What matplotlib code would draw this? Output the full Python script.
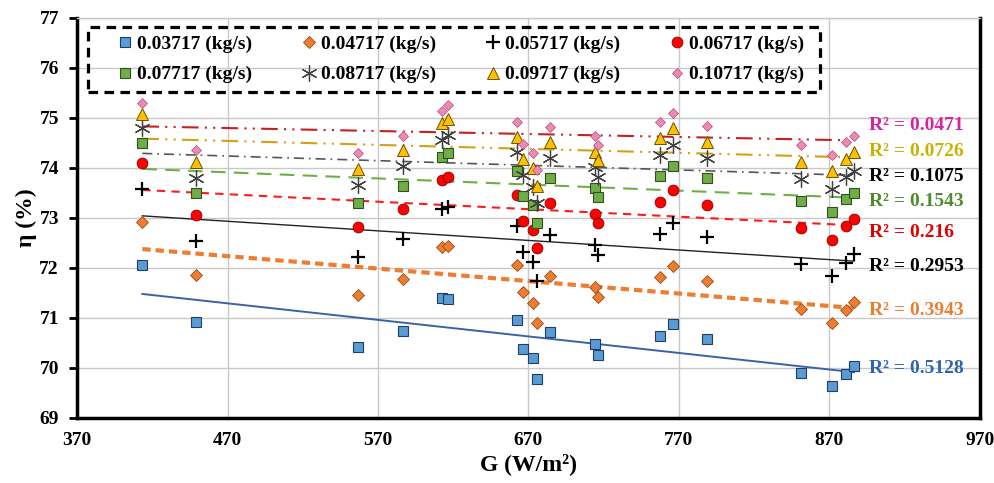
import numpy as np
import matplotlib
matplotlib.use("Agg")
import matplotlib.pyplot as plt
from matplotlib.patches import Rectangle

plt.rcParams['font.family'] = ['Liberation Serif', 'DejaVu Serif']
plt.rcParams['font.weight'] = 'bold'

# Irradiance (W/m2) for each measurement column
G = [413.4, 449.1, 556.5, 586.4, 612.3, 616.7, 662.2, 666.1, 673.2, 675.4,
     684.3, 714.2, 716.4, 757.4, 765.8, 788.8, 850.8, 872.0, 881.0, 886.3]

eta_03717 = [72.05, 70.91, 70.41, 70.73, 71.39, 71.37, 70.95, 70.37, 70.19, 69.77,
             70.72, 70.47, 70.25, 70.63, 70.87, 70.57, 69.90, 69.63, 69.87, 70.04]
eta_04717 = [72.92, 71.85, 71.45, 71.77, 72.41, 72.43, 72.05, 71.51, 71.30, 70.90,
             71.84, 71.61, 71.41, 71.82, 72.04, 71.74, 71.17, 70.89, 71.15, 71.32]
eta_05717 = [73.58, 72.53, 72.22, 72.57, 73.17, 73.21, 72.83, 72.31, 72.12, 71.74,
             72.65, 72.45, 72.25, 72.67, 72.89, 72.62, 72.07, 71.83, 72.10, 72.27]
eta_06717 = [74.09, 73.05, 72.82, 73.18, 73.75, 73.81, 73.45, 72.94, 72.75, 72.40,
             73.30, 73.07, 72.89, 73.32, 73.55, 73.25, 72.79, 72.55, 72.83, 72.97]
eta_07717 = [74.50, 73.49, 73.29, 73.64, 74.21, 74.30, 73.93, 73.43, 73.25, 72.90,
             73.79, 73.59, 73.42, 73.83, 74.04, 73.79, 73.34, 73.12, 73.37, 73.50]
eta_08717 = [74.80, 73.79, 73.65, 74.03, 74.55, 74.65, 74.32, 73.85, 73.62, 73.30,
             74.19, 74.02, 73.81, 74.25, 74.45, 74.19, 73.77, 73.57, 73.81, 73.93]
eta_09717 = [75.07, 74.12, 73.97, 74.35, 74.89, 74.97, 74.62, 74.17, 73.99, 73.63,
             74.51, 74.32, 74.15, 74.59, 74.79, 74.52, 74.12, 73.93, 74.17, 74.31]
eta_10717 = [75.30, 74.35, 74.29, 74.64, 75.14, 75.26, 74.92, 74.47, 74.29, 73.95,
             74.82, 74.64, 74.45, 74.91, 75.09, 74.84, 74.45, 74.25, 74.52, 74.64]

labels = ['0.03717 (kg/s)', '0.04717 (kg/s)', '0.05717 (kg/s)', '0.06717 (kg/s)',
          '0.07717 (kg/s)', '0.08717 (kg/s)', '0.09717 (kg/s)', '0.10717 (kg/s)']
r2_texts = ['R² = 0.5128', 'R² = 0.3943', 'R² = 0.2953', 'R² = 0.216',
            'R² = 0.1543', 'R² = 0.1075', 'R² = 0.0726', 'R² = 0.0471']
r2_y = [69.99, 71.15, 72.02, 72.70, 73.32, 73.83, 74.32, 74.85]

x_ticks = [370, 470, 570, 670, 770, 870, 970]
y_ticks = [69, 70, 71, 72, 73, 74, 75, 76, 77]

series = [eta_03717, eta_04717, eta_05717, eta_06717,
          eta_07717, eta_08717, eta_09717, eta_10717]

marker_styles = [
    dict(marker='s', ms=7.2, mfc='#5B9BD5', mec='#1F3F66', mew=0.8),
    dict(marker='D', ms=6.2, mfc='#ED7D31', mec='#9C4A12', mew=0.6),
    dict(marker='+', ms=9.5, mfc='black', mec='black', mew=1.6),
    dict(marker='o', ms=7.8, mfc='#FF0000', mec='#8B0000', mew=0.6),
    dict(marker='s', ms=7.2, mfc='#70AD47', mec='#2F5020', mew=0.8),
    dict(marker=(6, 2, 0), ms=11.5, mfc='#404040', mec='#404040', mew=0.9),
    dict(marker='^', ms=8.5, mfc='#FFC000', mec='#6B5200', mew=0.7),
    dict(marker='D', ms=5.0, mfc='#EE88B4', mec='#B0507A', mew=0.5),
]
trend_styles = [
    dict(color='#3A62A8', lw=1.4, ls='-'),
    dict(color='#ED7D31', lw=3.0, ls=(0, (2.0, 1.2))),
    dict(color='#222222', lw=1.0, ls='-'),
    dict(color='#FF1A1A', lw=1.5, ls=(0, (4, 3))),
    dict(color='#70AD47', lw=1.5, ls=(0, (7, 4))),
    dict(color='#555555', lw=1.2, ls=(0, (6, 3, 1, 3))),
    dict(color='#D4A017', lw=1.5, ls=(0, (8, 3, 1, 3, 1, 3))),
    dict(color='#C82020', lw=1.5, ls=(0, (8, 3, 1, 3, 1, 3))),
]
r2_colors = ['#2E64B0', '#ED7D31', '#000000', '#E00000',
             '#4E8A2E', '#000000', '#C8B400', '#D6249F']

fig = plt.figure(figsize=(9.95, 4.83), dpi=100)
ax = fig.add_axes([0.0774, 0.1352, 0.9075, 0.8282])

Garr = np.array(G)
handles = []
for i, ys in enumerate(series):
    ys = np.array(ys)
    p = np.polyfit(Garr, ys, 1)
    xs = np.array([Garr.min(), Garr.max()])
    ax.plot(xs, np.polyval(p, xs), zorder=2, **trend_styles[i])
for i, ys in enumerate(series):
    h, = ax.plot(G, ys, ls='none', zorder=3, **marker_styles[i])
    handles.append(h)

for i in range(8):
    ax.text(896, r2_y[i], r2_texts[i], color=r2_colors[i], fontsize=14,
            fontweight='bold', va='center', ha='left')

ax.set_xlim(370, 970)
ax.set_ylim(69, 77)
ax.set_xticks(x_ticks)
ax.set_yticks(y_ticks)
ax.grid(True, color='#C8C8C8', lw=1.0)
ax.set_axisbelow(True)
for s in ['left', 'bottom', 'right']:
    ax.spines[s].set_linewidth(2.5)
    ax.spines[s].set_color('black')
ax.spines['top'].set_color('#C8C8C8')
ax.spines['top'].set_linewidth(1.0)
ax.tick_params(axis='y', direction='out', length=6, width=2, labelsize=14, pad=7)
ax.tick_params(axis='x', length=0, labelsize=14, pad=10)
for lab in ax.get_xticklabels() + ax.get_yticklabels():
    lab.set_fontweight('bold')

ax.set_xlabel('G (W/m²)', fontsize=17, fontweight='bold', labelpad=3)
ax.set_ylabel('η (%)', fontsize=17, fontweight='bold', labelpad=2)

# dashed legend frame (transparent, gridlines show through)
ax.add_patch(Rectangle((0.0122, 0.814), 0.811, 0.163, transform=ax.transAxes,
                       fill=False, edgecolor='black', lw=2.3,
                       ls=(0, (3, 2)), zorder=4, clip_on=False))

order = [0, 4, 1, 5, 2, 6, 3, 7]
leg = ax.legend([handles[k] for k in order], [labels[k] for k in order],
                ncol=4, loc='center', bbox_to_anchor=(0.045, 0.814, 0.76, 0.163),
                mode='expand', frameon=False,
                prop=dict(family='Liberation Serif', weight='bold', size=14),
                handlelength=0.8, handletextpad=0.2, columnspacing=1.0,
                borderaxespad=0, borderpad=0.0, labelspacing=0.65)
leg.set_zorder(5)

fig.savefig('out.png', dpi=100)
